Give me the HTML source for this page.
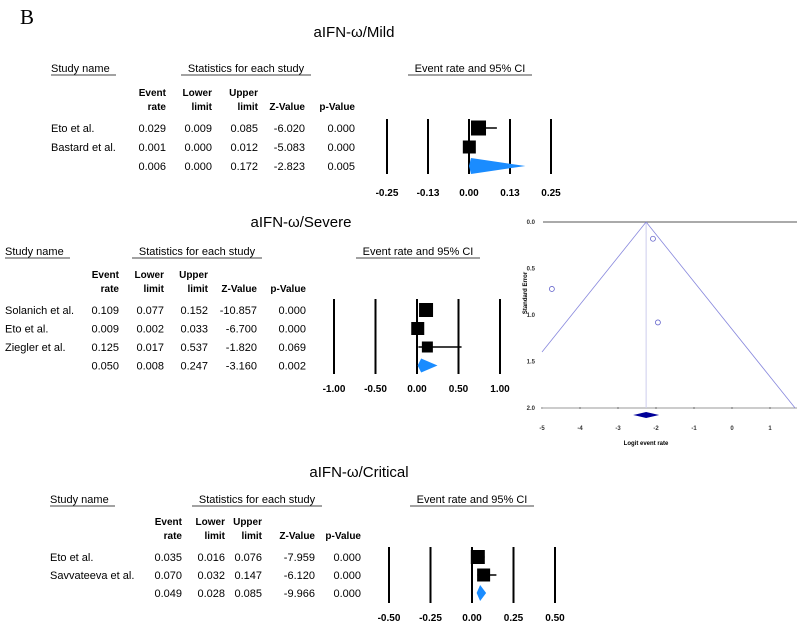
<!DOCTYPE html>
<html><head><meta charset="utf-8">
<style>
body{margin:0;background:#fff;}
svg{display:block;font-family:"Liberation Sans",sans-serif;}
</style></head>
<body>
<svg id="c" width="798" height="622" viewBox="0 0 798 622">
<text x="20" y="24" font-family="Liberation Serif,serif" font-size="21">B</text>
</svg>
<script>
// Mild
const mildStudies=["Eto et al.","Bastard et al.",""];
const mildRate=[0.029,0.001,0.006];
const mildLower=[0.009,0.000,0.000];
const mildUpper=[0.085,0.012,0.172];
const mildZ=["-6.020","-5.083","-2.823"];
const mildP=["0.000","0.000","0.005"];
const mildWeight=[15,13,0];
const mildTicks=["-0.25","-0.13","0.00","0.13","0.25"];
const mildTickVals=[-0.25,-0.125,0,0.125,0.25];
// Severe
const sevStudies=["Solanich et al.","Eto et al.","Ziegler et al.",""];
const sevRate=[0.109,0.009,0.125,0.050];
const sevLower=[0.077,0.002,0.017,0.008];
const sevUpper=[0.152,0.033,0.537,0.247];
const sevZ=["-10.857","-6.700","-1.820","-3.160"];
const sevP=["0.000","0.000","0.069","0.002"];
const sevWeight=[14,13,11,0];
const sevTicks=["-1.00","-0.50","0.00","0.50","1.00"];
const sevTickVals=[-1,-0.5,0,0.5,1];
// Critical
const critStudies=["Eto et al.","Savvateeva et al.",""];
const critRate=[0.035,0.070,0.049];
const critLower=[0.016,0.032,0.028];
const critUpper=[0.076,0.147,0.085];
const critZ=["-7.959","-6.120","-9.966"];
const critP=["0.000","0.000","0.000"];
const critWeight=[14,13,0];
const critTicks=["-0.50","-0.25","0.00","0.25","0.50"];
const critTickVals=[-0.5,-0.25,0,0.25,0.5];
// Funnel
const funnelLogit=[-2.08,-4.74,-1.95];
const funnelSE=[0.18,0.72,1.08];
const funnelSummary=-2.26;
const funnelXTicks=[-5,-4,-3,-2,-1,0,1];
const funnelYTicks=[0,0.5,1.0,1.5,2.0];

const NS="http://www.w3.org/2000/svg";
const svg=document.getElementById('c');
function el(tag,attrs,parent){const e=document.createElementNS(NS,tag);for(const k in attrs)e.setAttribute(k,attrs[k]);(parent||svg).appendChild(e);return e;}
function txt(x,y,s,opts,parent){const t=el('text',Object.assign({x:x,y:y,'font-size':11},opts||{}),parent);t.textContent=s;return t;}

function forest(cfg){
  const g=el('g',{});
  
  
  const t=txt(cfg.titleX,cfg.titleY,cfg.title,{'font-size':15,'text-anchor':'middle'},g);
  
  
  const h1=txt(cfg.nameX,cfg.headY,"Study name",{},g);
  
  
  el('line',{x1:cfg.nameX,x2:cfg.nameX+65,y1:cfg.headY+3,y2:cfg.headY+3,stroke:'#444','stroke-width':1},g);
  const h2=txt(cfg.statX,cfg.headY,"Statistics for each study",{'text-anchor':'middle'},g);
  
  
  el('line',{x1:cfg.statX-65,x2:cfg.statX+65,y1:cfg.headY+3,y2:cfg.headY+3,stroke:'#444','stroke-width':1},g);
  const h3=txt(cfg.ciX,cfg.headY,"Event rate and 95% CI",{'text-anchor':'middle'},g);
  
  
  el('line',{x1:cfg.ciX-62,x2:cfg.ciX+62,y1:cfg.headY+3,y2:cfg.headY+3,stroke:'#444','stroke-width':1},g);
  const colH=[["Event","rate"],["Lower","limit"],["Upper","limit"],["","Z-Value"],["","p-Value"]];
  colH.forEach((c,i)=>{
    const a=txt(cfg.cols[i],cfg.colHY,c[0],{'font-size':10,'font-weight':'bold','text-anchor':'end'},g);
    
    
    const b=txt(cfg.cols[i],cfg.colHY+14,c[1],{'font-size':10,'font-weight':'bold','text-anchor':'end'},g);
    
    
  });
  const xs=v=>cfg.zeroX+v*cfg.ppu;
  cfg.tickVals.forEach((v,i)=>{
    const l=el('line',{x1:xs(v),x2:xs(v),y1:cfg.lineTop,y2:cfg.lineBot,stroke:'#000','stroke-width':2},g);
    
    
    const tl=txt(xs(v),cfg.tickY,cfg.ticks[i],{'font-size':10,'font-weight':'bold','text-anchor':'middle'},g);
    
    
  });
  cfg.studies.forEach((s,i)=>{
    const y=cfg.rowY0+i*cfg.rowH;
    const vals=[cfg.rate[i].toFixed(3),cfg.lower[i].toFixed(3),cfg.upper[i].toFixed(3),cfg.z[i],cfg.p[i]];
    if(s){const n=txt(cfg.nameX,y+4,s,{},g);
      
      }
    vals.forEach((v,j)=>{const c=txt(cfg.cols[j],y+4,v,{'text-anchor':'end'},g);
      
      });
    if(cfg.weight[i]>0){
      const wl=el('line',{x1:xs(cfg.lower[i]),x2:xs(cfg.upper[i]),y1:y,y2:y,stroke:'#000','stroke-width':1.5},g);
      
      
      const w=cfg.weight[i];
      const r=el('rect',{x:xs(cfg.rate[i])-w/2,y:y-w/2,width:w,height:w,fill:'#000'},g);
      
      
    }else{
      const d=cfg.dh;
      const p=el('polygon',{points:`${xs(cfg.lower[i])},${y} ${xs(cfg.rate[i])},${y-d} ${xs(cfg.upper[i])},${y} ${xs(cfg.rate[i])},${y+d}`,fill:'#1a8cff'},g);
      
      
    }
  });
}
forest({name:'forest-mild',title:'aIFN-ω/Mild',titleX:354,titleY:37,nameX:51,headY:72,statX:246,ciX:470,colHY:96,cols:[166,212,258,305,355],
  zeroX:469,ppu:328,tickVals:mildTickVals,ticks:mildTicks,lineTop:119,lineBot:174,tickY:196,rowY0:128,rowH:19,
  studies:mildStudies,rate:mildRate,lower:mildLower,upper:mildUpper,z:mildZ,p:mildP,weight:mildWeight,dh:8});
forest({name:'forest-severe',title:'aIFN-ω/Severe',titleX:301,titleY:227,nameX:5,headY:255,statX:197,ciX:418,colHY:278,cols:[119,164,208,257,306],
  zeroX:417,ppu:83,tickVals:sevTickVals,ticks:sevTicks,lineTop:299,lineBot:374,tickY:392,rowY0:310,rowH:18.5,
  studies:sevStudies,rate:sevRate,lower:sevLower,upper:sevUpper,z:sevZ,p:sevP,weight:sevWeight,dh:7});
forest({name:'forest-critical',title:'aIFN-ω/Critical',titleX:359,titleY:477,nameX:50,headY:503,statX:257,ciX:472,colHY:525,cols:[182,225,262,315,361],
  zeroX:472,ppu:166,tickVals:critTickVals,ticks:critTicks,lineTop:547,lineBot:603,tickY:621,rowY0:557,rowH:18,
  studies:critStudies,rate:critRate,lower:critLower,upper:critUpper,z:critZ,p:critP,weight:critWeight,dh:8});

// Funnel plot
(function(){
  const g=el('g',{});
  
  
  const fx=v=>732+38*v, fy=v=>222+93*v;
  const top=el('line',{x1:543,x2:797,y1:fy(0),y2:fy(0),stroke:'#555','stroke-width':1},g);
  
  
  const bot=el('line',{x1:543,x2:797,y1:fy(2),y2:fy(2),stroke:'#999','stroke-width':1},g);
  
  
  funnelXTicks.forEach(v=>{
    el('line',{x1:fx(v),x2:fx(v),y1:fy(2)-1,y2:fy(2)+1,stroke:'#777'},g);
    const t=txt(fx(v),fy(2)+22,String(v),{'font-size':6,'font-weight':'bold','text-anchor':'middle',fill:'#333'},g);
    
    
  });
  funnelYTicks.forEach(v=>{
    const t=txt(535,fy(v)+2,v.toFixed(1),{'font-size':6,'font-weight':'bold','text-anchor':'end',fill:'#333'},g);
    
    
  });
  const yl=txt(0,0,'Standard Error',{'font-size':6,'font-weight':'bold','text-anchor':'middle',transform:'translate(527,293) rotate(-90)'},g);
  
  
  const xl=txt(646,445,'Logit event rate',{'font-size':6,'font-weight':'bold','text-anchor':'middle'},g);
  
  
  const cl=el('line',{x1:fx(funnelSummary),x2:fx(funnelSummary),y1:fy(0),y2:fy(2),stroke:'#ccccee','stroke-width':1},g);
  
  
  const seL=(funnelSummary-(-5))/1.96, seR=2;
  const f1=el('line',{x1:fx(funnelSummary),y1:fy(0),x2:fx(-5),y2:fy(seL),stroke:'#8888dd','stroke-width':0.8},g);
  
  
  const f2=el('line',{x1:fx(funnelSummary),y1:fy(0),x2:fx(funnelSummary+1.96*seR),y2:fy(seR),stroke:'#8888dd','stroke-width':0.8},g);
  
  
  funnelLogit.forEach((v,i)=>{
    const c=el('circle',{cx:fx(v),cy:fy(funnelSE[i]),r:2.5,fill:'none',stroke:'#6666cc','stroke-width':0.8},g);
    
    
  });
  const d=el('polygon',{points:`${fx(funnelSummary)-13},${fy(2)+7} ${fx(funnelSummary)},${fy(2)+4} ${fx(funnelSummary)+13},${fy(2)+7} ${fx(funnelSummary)},${fy(2)+10}`,fill:'#000099'},g);
  
  
})();
</script>
</body></html>
